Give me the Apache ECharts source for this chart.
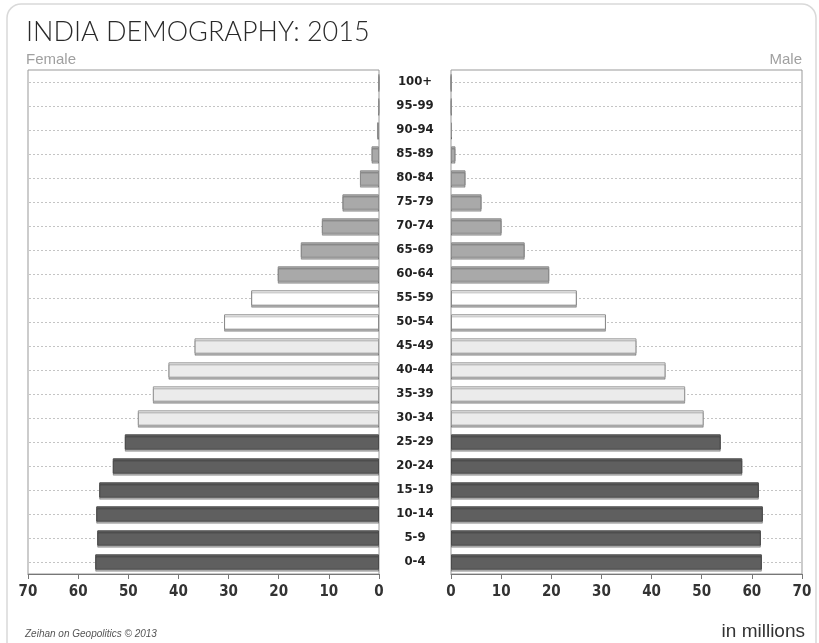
<!DOCTYPE html>
<html><head><meta charset="utf-8">
<script src="https://cdn.jsdelivr.net/npm/echarts@6/dist/echarts.min.js"></script>
<style>html,body{margin:0;padding:0;background:#fff}#c{width:819px;height:643px}</style>
</head><body><div id="c"></div>
<script>
const ageGroups = ['100+','95-99','90-94','85-89','80-84','75-79','70-74','65-69','60-64','55-59','50-54','45-49','40-44','35-39','30-34','25-29','20-24','15-19','10-14','5-9','0-4'];
const female = [0.05,0.1,0.4,1.5,3.8,7.3,11.4,15.6,20.2,25.5,30.9,36.8,42.0,45.1,48.1,50.7,53.1,55.8,56.4,56.2,56.6];
const male = [0.05,0.1,0.2,0.9,2.9,6.1,10.1,14.7,19.6,25.1,30.9,37.0,42.8,46.7,50.4,53.8,58.1,61.4,62.2,61.8,62.0];
const xTicks = [0,10,20,30,40,50,60,70];

const condFont = '"DejaVu Sans Condensed","Liberation Sans Narrow","Roboto Condensed",sans-serif';
function styleFor(i){
  const lo = parseInt(ageGroups[i],10);
  let fill, border;
  if (lo < 30) { fill = '#5f5f5f'; border = '#4a4a4a'; }
  else if (lo < 50) { fill = '#ebebeb'; border = '#9a9a9a'; }
  else if (lo < 60) { fill = '#ffffff'; border = '#8a8a8a'; }
  else { fill = '#a9a9a9'; border = '#8c8c8c'; }
  return {color: fill, borderColor: border, borderWidth: 1, shadowColor: 'rgba(0,0,0,0.28)', shadowOffsetY: 2, shadowBlur: 0};
}
const fData = female.map((v,i)=>({value:v, itemStyle: styleFor(i)}));
const mData = male.map((v,i)=>({value:v, itemStyle: styleFor(i)}));
const cats = ageGroups.slice().reverse();

const chart = echarts.init(document.getElementById('c'), null, {renderer:'canvas'});
const xCommon = {
  type:'value', min:0, max:70, interval:10,
  axisLine:{show:true, lineStyle:{color:'#777', width:1}},
  axisTick:{show:true, length:5, lineStyle:{color:'#777'}},
  axisLabel:{color:'#333', fontFamily:condFont, fontWeight:'bold', fontSize:15, margin:11, formatter: v => xTicks.includes(v) ? String(v) : ''},
  splitLine:{show:false}
};
const yCommon = {
  type:'category', data: cats,
  axisLine:{show:false}, axisTick:{show:false}, splitLine:{show:false}
};
const markLines = {
  silent:true, symbol:'none', label:{show:false},
  lineStyle:{color:'#c4c4c4', type:[2,2], width:1},
  data: ageGroups.map(g=>({yAxis:g}))
};
chart.setOption({
  backgroundColor:'#fff',
  animation:false,
  graphic:[
    {type:'rect', shape:{x:7, y:4, width:809, height:660, r:14}, style:{fill:'none', stroke:'#d9d9d9', lineWidth:1.5}, z:-10},
    {type:'text', left:26, top:19, style:{text:'INDIA DEMOGRAPHY: 2015', fontFamily:'Lato, "Liberation Sans", sans-serif', fontWeight:300, fontSize:27, fill:'#2a2a2a'}},
    {type:'text', left:26, top:52, style:{text:'Female', fontFamily:'"Liberation Sans", Arial, sans-serif', fontSize:15, fill:'#a0a0a0'}},
    {type:'text', right:17, top:52, style:{text:'Male', fontFamily:'"Liberation Sans", Arial, sans-serif', fontSize:15, fill:'#a0a0a0', align:'right'}},
    {type:'text', right:14, top:622, style:{text:'in millions', fontFamily:'"Liberation Sans", Arial, sans-serif', fontSize:19, fill:'#333', align:'right'}},
    {type:'text', left:25, top:629, style:{text:'Zeihan on Geopolitics © 2013', fontFamily:'"Liberation Sans", Arial, sans-serif', fontStyle:'italic', fontSize:10, fill:'#555'}}
  ],
  grid:[
    {left:28, right:440, top:70, bottom:69, show:true, borderColor:'#999', borderWidth:1, backgroundColor:'transparent'},
    {left:451, right:17, top:70, bottom:69, show:true, borderColor:'#999', borderWidth:1, backgroundColor:'transparent'}
  ],
  xAxis:[
    Object.assign({gridIndex:0, inverse:true}, xCommon),
    Object.assign({gridIndex:1}, xCommon)
  ],
  yAxis:[
    Object.assign({gridIndex:0, position:'right', axisLabel:{show:false}}, yCommon),
    Object.assign({gridIndex:1, position:'left', axisLabel:{show:true, align:'center', margin:36, color:'#222', fontFamily:condFont, fontWeight:'bold', fontSize:13}}, yCommon)
  ],
  series:[
    {type:'line', name:'gridF', xAxisIndex:0, yAxisIndex:0, data:[], showSymbol:false, markLine:markLines, z:1, silent:true},
    {type:'line', name:'gridM', xAxisIndex:1, yAxisIndex:1, data:[], showSymbol:false, markLine:markLines, z:1, silent:true},
    {type:'bar', name:'Female', xAxisIndex:0, yAxisIndex:0, data:fData.slice().reverse(), barWidth:'64%', z:5},
    {type:'bar', name:'Male', xAxisIndex:1, yAxisIndex:1, data:mData.slice().reverse(), barWidth:'64%', z:5}
  ]
});
</script></body></html>
